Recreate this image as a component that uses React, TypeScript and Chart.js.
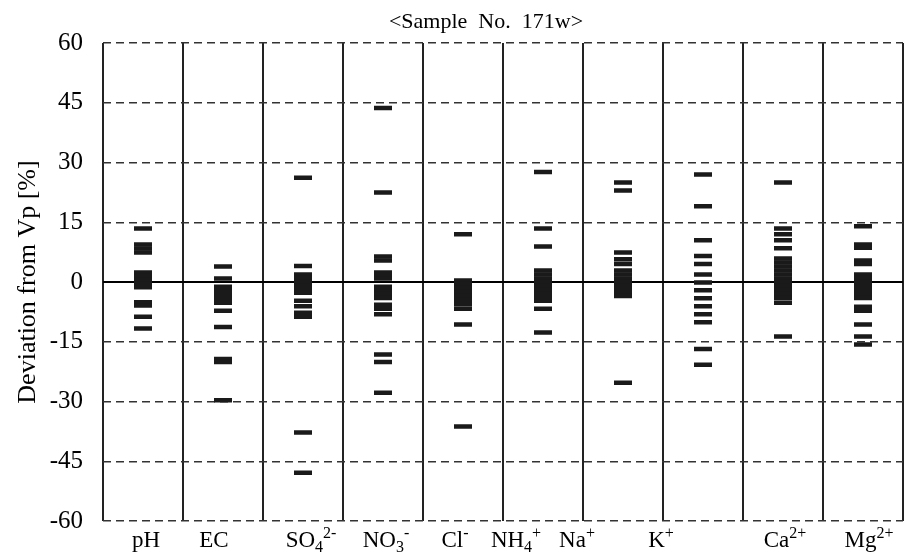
import React, { useEffect, useRef } from "react";
import { Chart, registerables } from "chart.js";

Chart.register(...registerables);

// ---------- data ----------
const categories = ["pH", "EC", "SO4", "NO3", "Cl", "NH4", "Na", "K", "Ca", "Mg"];
const labelBase = ["pH", "EC", "SO", "NO", "Cl", "NH", "Na", "K", "Ca", "Mg"];
const labelSub = ["", "", "4", "3", "", "4", "", "", "", ""];
const labelSup = ["", "", "2-", "-", "-", "+", "+", "+", "2+", "2+"];

const yMin = -60;
const yMax = 60;
const yStep = 15;

const titleText = "<Sample  No.  171w>";
const yAxisTitle = "Deviation from Vp [%]";

const pH = [13.4, 9.4, 8.4, 7.4, 2.4, 1.5, 0.5, -0.4, -1.3, -5.1, -5.9, -8.7, -11.7];
const EC = [3.9, 0.9, -1.2, -2.2, -3.2, -4.2, -5.2, -7.2, -11.3, -19.3, -20.1, -29.7];
const SO4 = [26.2, 4.0, 1.9, 1.0, 0.0, -1.0, -1.8, -2.7, -4.7, -6.1, -7.7, -8.7, -37.8, -47.9];
const NO3 = [43.7, 22.5, 6.4, 5.4, 2.4, 1.6, 0.9, -1.2, -2.1, -3.0, -4.0, -5.7, -6.7, -8.1, -18.2, -20.1, -27.8];
const Cl = [12.0, 0.4, -0.5, -1.5, -2.5, -3.5, -4.5, -5.6, -6.7, -10.7, -36.3];
const NH4 = [27.6, 13.4, 8.9, 2.9, 1.9, 0.9, 0.0, -1.0, -2.0, -2.9, -3.8, -4.7, -6.7, -12.7];
const Na = [25.0, 23.0, 7.4, 5.7, 4.5, 2.9, 1.9, 0.9, 0.0, -0.9, -1.8, -2.7, -3.5, -25.3];
const K = [27.0, 19.0, 10.5, 6.5, 4.5, 1.9, -0.1, -2.1, -4.1, -6.1, -8.1, -10.1, -16.8, -20.8];
const Ca = [25.0, 13.4, 12.0, 10.5, 8.5, 5.9, 4.9, 3.9, 2.9, 1.9, 0.9, 0.0, -1.0, -2.0, -3.0, -4.0, -5.2, -13.7];
const Mg = [14.0, 9.4, 8.6, 5.4, 4.5, 1.9, 1.0, 0.1, -0.8, -1.7, -2.6, -3.3, -4.0, -6.2, -7.2, -10.7, -13.7, -15.7];

const seriesValues = [pH, EC, SO4, NO3, Cl, NH4, Na, K, Ca, Mg];

// ---------- drawing ----------
const SERIF = '"Liberation Serif", "Times New Roman", serif';
// horizontal nudges of the category captions (px), as in the reference layout
const labelNudge = [3, -9, 8, 3, -8, -27, -46, -42, 2, 6];

const textPlugin = {
  id: "customText",
  afterDraw(chart: any) {
    const ctx = chart.ctx as CanvasRenderingContext2D;
    const xs = chart.scales.x;
    const area = chart.chartArea;
    ctx.save();
    ctx.fillStyle = "#000";
    ctx.textBaseline = "alphabetic";
    ctx.textAlign = "left";
    const baseFont = `23px ${SERIF}`;
    const smallFont = `16px ${SERIF}`;
    const baseY = area.bottom + 26;
    categories.forEach((_, i) => {
      const cx = xs.getPixelForValue(i) + labelNudge[i];
      ctx.font = baseFont;
      const wb = ctx.measureText(labelBase[i]).width;
      ctx.font = smallFont;
      const ws = ctx.measureText(labelSub[i]).width;
      const wp = ctx.measureText(labelSup[i]).width;
      let x = cx - (wb + ws + wp) / 2;
      ctx.font = baseFont;
      ctx.fillText(labelBase[i], x, baseY);
      x += wb;
      ctx.font = smallFont;
      if (labelSub[i]) {
        ctx.fillText(labelSub[i], x, baseY + 5);
        x += ws;
      }
      if (labelSup[i]) {
        ctx.fillText(labelSup[i], x, baseY - 9);
      }
    });
    ctx.font = `22px ${SERIF}`;
    ctx.textAlign = "center";
    ctx.fillText(titleText, 486, 28);
    ctx.restore();
  },
};

export default function App() {
  const ref = useRef<HTMLCanvasElement | null>(null);

  useEffect(() => {
    if (!ref.current) return;
    const points: { x: string; y: number }[] = [];
    seriesValues.forEach((vals, i) => {
      vals.forEach((v) => points.push({ x: categories[i], y: v }));
    });
    const chart = new Chart(ref.current, {
      type: "line",
      data: {
        labels: categories,
        datasets: [
          {
            data: points as any,
            showLine: false,
            pointStyle: "line",
            pointRadius: 9,
            pointHoverRadius: 9,
            pointBorderWidth: 4.5,
            pointBorderColor: "#1a1a1a",
            pointBackgroundColor: "#1a1a1a",
          },
        ],
      },
      options: {
        responsive: false,
        animation: false,
        events: [],
        layout: { autoPadding: false, padding: { top: 43, right: 1, left: 0, bottom: 0 } },
        plugins: {
          legend: { display: false },
          tooltip: { enabled: false },
          title: { display: false },
        },
        scales: {
          x: {
            type: "category",
            offset: true,
            grid: {
              offset: true,
              color: "#222",
              lineWidth: 2,
              drawTicks: false,
            },
            border: { display: false },
            ticks: { display: false },
            afterFit: (scale: any) => {
              scale.height = 33;
              scale.paddingLeft = 0;
              scale.paddingRight = 0;
            },
          },
          y: {
            min: yMin,
            max: yMax,
            ticks: {
              stepSize: yStep,
              color: "#000",
              font: { family: SERIF, size: 25 },
              padding: 20,
              callback: (v: any) => String(v),
            },
            grid: {
              drawTicks: false,
              color: (c: any) => (c.tick && c.tick.value === 0 ? "#000" : "#333"),
              lineWidth: (c: any) => (c.tick && c.tick.value === 0 ? 2 : 1.5),
            },
            border: {
              display: false,
              dash: (c: any) => (c.tick && c.tick.value === 0 ? [] : [8, 5]),
            },
            title: {
              display: true,
              text: yAxisTitle,
              color: "#000",
              font: { family: SERIF, size: 26 },
              padding: { top: 13, bottom: 0 },
            },
            afterFit: (scale: any) => {
              scale.width = 103;
              scale.paddingTop = 0;
              scale.paddingBottom = 0;
            },
          },
        },
      },
      plugins: [textPlugin],
    });
    return () => chart.destroy();
  }, []);

  return (
    <div style={{ position: "fixed", left: 0, top: 0, width: 904, height: 554, background: "#fff" }}>
      <canvas ref={ref} width={904} height={554} style={{ display: "block" }} />
    </div>
  );
}
